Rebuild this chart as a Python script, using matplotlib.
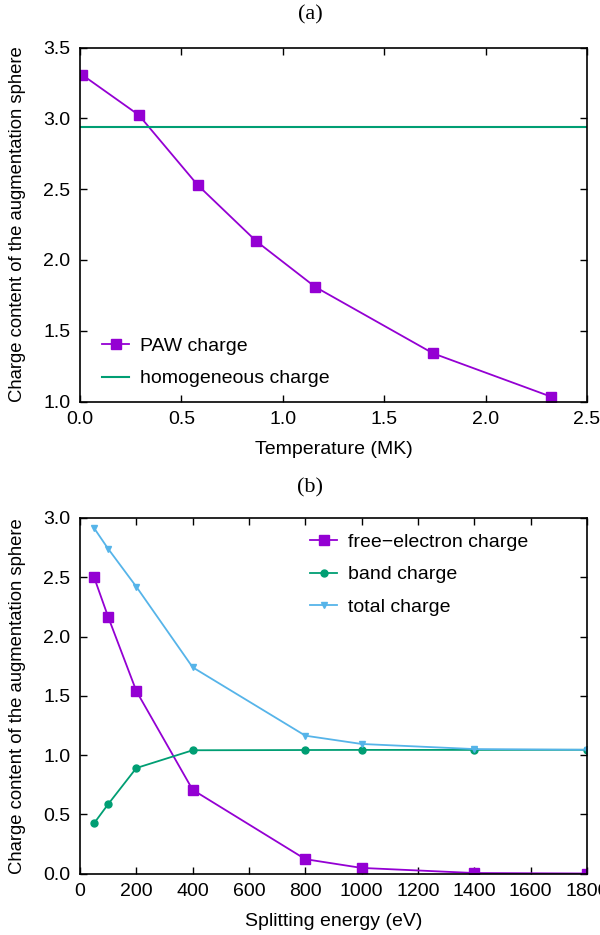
import matplotlib
matplotlib.use('Agg')
import matplotlib.pyplot as plt
from matplotlib.ticker import MultipleLocator

plt.rcParams['font.family'] = ['Liberation Sans', 'DejaVu Sans']

# panel (a): PAW charge vs temperature
temp_mk = [0.0116, 0.290, 0.580, 0.870, 1.160, 1.741, 2.321]
paw_charge = [3.306, 3.023, 2.529, 2.131, 1.809, 1.340, 1.035]
homog_charge = 2.937

# panel (b): charges vs splitting energy
split_ev = [50, 100, 200, 400, 800, 1000, 1400, 1800]
free_charge = [2.500, 2.165, 1.540, 0.706, 0.121, 0.047, 0.004, 0.000]
band_charge = [0.424, 0.585, 0.890, 1.040, 1.042, 1.043, 1.043, 1.044]
total_charge = [2.915, 2.740, 2.420, 1.740, 1.163, 1.093, 1.050, 1.044]

purple = '#9400d3'
green = '#009e73'
blue = '#56b4e9'
ylab = 'Charge content of the augmentation sphere'
fs = 14

W, H = 600, 935
fig = plt.figure(figsize=(W/100, H/100), dpi=100)

def px_axes(x0, x1, ytop, ybot):
    return fig.add_axes([x0/W, 1-ybot/H, (x1-x0)/W, (ybot-ytop)/H])

def style(ax):
    ax.tick_params(direction='in', top=True, right=True, length=5, width=1,
                   labelsize=fs, pad=7)
    for s in ax.spines.values():
        s.set_linewidth(1.2)
    ax.yaxis.set_label_coords(-0.124, 0.5)
    ax.yaxis.label.set_va('center')
    ax.xaxis.label.set_va('center')

def add_legend(ax, x, y):
    ax.legend(loc='upper left', bbox_to_anchor=(x/W, 1-y/H), bbox_transform=fig.transFigure,
              frameon=False, fontsize=fs, handlelength=1.4, handletextpad=0.55,
              labelspacing=0.78, borderpad=0, borderaxespad=0)

ax1 = px_axes(80, 587, 47.5, 401.5)
ax1.plot(temp_mk, paw_charge, color=purple, lw=1.3, marker='s', ms=7, label='PAW charge')
ax1.axhline(homog_charge, color=green, lw=1.5, label='homogeneous charge')
ax1.set_xlim(0, 2.5)
ax1.set_ylim(1.0, 3.5)
ax1.xaxis.set_major_locator(MultipleLocator(0.5))
ax1.yaxis.set_major_locator(MultipleLocator(0.5))
ax1.xaxis.set_major_formatter('{x:.1f}')
ax1.yaxis.set_major_formatter('{x:.1f}')
ax1.set_xlabel('Temperature (MK)', fontsize=fs)
ax1.set_ylabel(ylab, fontsize=13.3)
style(ax1)
ax1.xaxis.set_label_coords(0.5, -48.5/354)
add_legend(ax1, 102, 337)

ax2 = px_axes(80, 587, 518, 873.5)
ax2.plot(split_ev, free_charge, color=purple, lw=1.3, marker='s', ms=7, label='free\u2212electron charge')
ax2.plot(split_ev, band_charge, color=green, lw=1.3, marker='o', ms=5, label='band charge')
ax2.plot(split_ev, total_charge, color=blue, lw=1.3, marker='v', ms=4, label='total charge')
ax2.set_xlim(0, 1800)
ax2.set_ylim(0, 3.0)
ax2.xaxis.set_major_locator(MultipleLocator(200))
ax2.yaxis.set_major_locator(MultipleLocator(0.5))
ax2.yaxis.set_major_formatter('{x:.1f}')
ax2.set_xlabel('Splitting energy (eV)', fontsize=fs)
ax2.set_ylabel(ylab, fontsize=13.3)
style(ax2)
ax2.xaxis.set_label_coords(0.5, -48/355.5)
add_legend(ax2, 310, 533)

fig.text(310/W, 1-15/H, '(a)', family='Liberation Serif', fontsize=16, ha='center', va='center')
fig.text(310/W, 1-488/H, '(b)', family='Liberation Serif', fontsize=16, ha='center', va='center')

fig.savefig('out.png', dpi=100)
